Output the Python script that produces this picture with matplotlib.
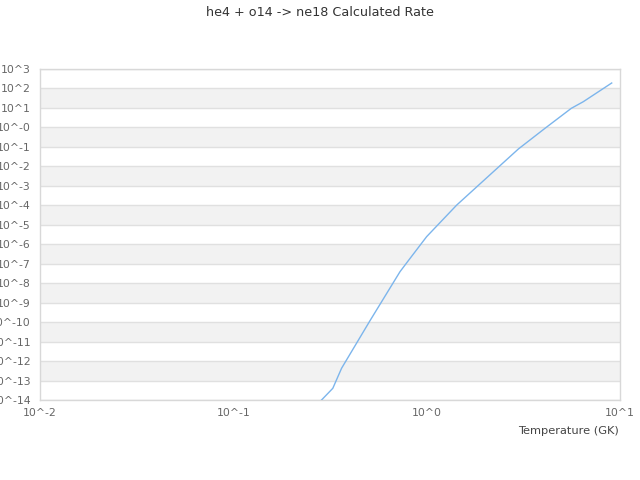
import numpy as np
import matplotlib
matplotlib.use('Agg')
import matplotlib.pyplot as plt

# temperature (GK) and rate
temps = [0.2, 0.327, 0.363, 0.509, 0.728, 0.803, 1.0, 1.43, 2.98, 4.09, 5.6, 6.46, 9.06]
log_rate = [-15.6, -13.40, -12.37, -9.93, -7.41, -6.85, -5.61, -3.99, -1.11, -0.05, 0.98, 1.32, 2.28]
rate = [10 ** v for v in log_rate]

x_exps = [-2, -1, 0, 1]
x_labels = ['10^-2', '10^-1', '10^0', '10^1']
y_exps = list(range(-14, 4))
y_labels = ['10^' + str(e) if e != 0 else '10^-0' for e in y_exps]

fig = plt.figure(figsize=(6.4, 4.8), dpi=100)
ax = fig.add_axes([0.0625, 0.1667, 0.90625, 0.6896])

ax.set_xscale('log')
ax.set_yscale('log')
ax.set_xlim(1e-2, 1e1)
ax.set_ylim(1e-14, 1e3)

# alternating bands
for e in y_exps[:-1]:
    if (e + 1) % 2 == 0:
        ax.axhspan(10 ** e, 10 ** (e + 1), color='#f2f2f2', zorder=0, lw=0)
for e in y_exps:
    ax.axhline(10 ** e, color='#e0e0e0', lw=1, zorder=1)

ax.plot(temps, rate, color='#7cb5ec', lw=1, zorder=3)

ax.set_xticks([10 ** e for e in x_exps])
ax.set_xticklabels(x_labels)
ax.set_yticks([10 ** e for e in y_exps])
ax.set_yticklabels(y_labels)
ax.minorticks_off()
ax.tick_params(axis='both', length=0, labelsize=7.8, colors='#666666')
ax.tick_params(axis='x', pad=6)
ax.tick_params(axis='y', pad=6.5)

for s in ax.spines.values():
    s.set_color('#d8d8d8')
    s.set_linewidth(1)

fig.text(0.5, 0.975, 'he4 + o14 -> ne18 Calculated Rate', ha='center', va='center',
         fontsize=9.2, color='#333333')
fig.text(0.967, 0.102, 'Temperature (GK)', ha='right', va='center',
         fontsize=8.2, color='#444444')

fig.savefig('out.png', dpi=100)
